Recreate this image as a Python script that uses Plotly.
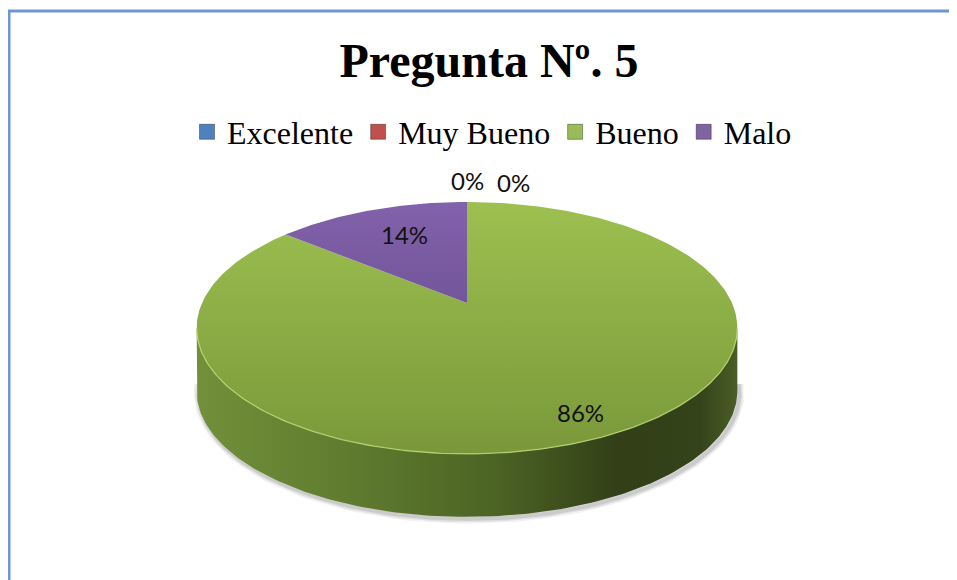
import math
import plotly.graph_objects as go

# ---------------- data ----------------
categories = ["Excelente", "Muy Bueno", "Bueno", "Malo"]
values = [0, 0, 86, 14]
colors = ["#4f81bd", "#c0504d", "#9bbb59", "#8064a2"]
title_text = "Pregunta Nº. 5"

# ---------------- styles ----------------
OFF = 8                    # page body margin of the browser
W, H = 957 - OFF, 580 - OFF
CX, CY = 467 - OFF, 303 - OFF   # projected pie centre (pixels)
A, B, K = 265, 121, 0.198  # ellipse half axes and perspective factor
D = 63                     # thickness of the pie
top_grad = {
    "Excelente": ["#6d9bd6", "#3d6aa3"],
    "Muy Bueno": ["#d56d69", "#a33d3a"],
    "Bueno": ["#9dc050", "#7a983a"],
    "Malo": ["#8262aa", "#5c4285"],
}
side_grad = {
    "Excelente": [[0, "#46709f"], [0.8, "#223a58"], [1, "#2e4a6e"]],
    "Muy Bueno": [[0, "#a84441"], [0.8, "#5c1f1d"], [1, "#6e2a27"]],
    "Bueno": [[0, "#72903a"], [0.3, "#5e7a2e"], [0.55, "#4c6424"],
              [0.78, "#323f17"], [0.93, "#34431a"], [1, "#4a5e26"]],
    "Malo": [[0, "#6b528c"], [0.8, "#37284d"], [1, "#44325e"]],
}
LABEL_R = [1.26, 1.26, 0.85, 0.62]
LABEL_SHIFT = [(0, 0), (46, -2), (0, 0), (0, 7)]
LABEL_FONT = dict(family="Lato", size=24, color="#111111")


def proj(r, t_deg, drop=0.0):
    t = math.radians(t_deg)
    X, Z = r * math.cos(t), r * math.sin(t)
    den = 1 + K * Z
    return CX + A * X / den, CY - B * Z / den + drop


def arc(t0, t1, r=1.0, drop=0.0, n=None):
    n = n or max(2, int(abs(t1 - t0) / 1.0) + 1)
    xs, ys = [], []
    for i in range(n):
        t = t0 + (t1 - t0) * i / (n - 1)
        x, y = proj(r, t, drop)
        xs.append(x)
        ys.append(y)
    return xs, ys


total = sum(values)
starts, ends = [], []
acc = 0
for v in values:
    s = 90 - 360 * acc / total
    e = s - 360 * v / total
    starts.append(s)
    ends.append(e)
    acc += v

# silhouette angles: visible front wall between these (clockwise representation)
t_sil = math.degrees(math.asin(K))
front_lo, front_hi = -180 + t_sil, -t_sil

fig = go.Figure()

# soft shadow under the front rim
for w, a_ in [(10, 0.05), (7, 0.07), (4, 0.09)]:
    xs, ys = arc(front_hi + 4, front_lo - 4, 1.0, D + 2)
    fig.add_trace(go.Scatter(x=[x + 2 for x in xs], y=ys, mode="lines",
                             line=dict(color=f"rgba(0,0,0,{a_})", width=w),
                             hoverinfo="skip", showlegend=False))

# side walls
for cat, s, e in zip(categories, starts, ends):
    if s == e:
        continue
    for shift in (0, -360, 360):
        lo = max(e, front_lo + shift)
        hi = min(s, front_hi + shift)
        if hi > lo:
            xt, yt = arc(hi, lo)
            xb, yb = arc(lo, hi, drop=D)
            fig.add_trace(go.Scatter(
                x=xt + xb + [xt[0]], y=yt + yb + [yt[0]], mode="lines",
                fill="toself", line=dict(width=0, color="rgba(0,0,0,0)"),
                fillgradient=dict(type="horizontal", colorscale=side_grad[cat]),
                hoverinfo="skip", showlegend=False))

# top faces
for cat, s, e in zip(categories, starts, ends):
    if s == e:
        continue
    xs, ys = arc(s, e)
    xs = [CX] + xs + [CX]
    ys = [CY] + ys + [CY]
    c0, c1 = top_grad[cat]
    fig.add_trace(go.Scatter(
        x=xs, y=ys, mode="lines", fill="toself",
        line=dict(width=0, color="rgba(0,0,0,0)"),
        fillgradient=dict(type="vertical", start=proj(1, 90)[1], stop=proj(1, -90)[1],
                          colorscale=[[0, c0], [1, c1]]),
        hoverinfo="skip", showlegend=False))

# light rim highlight along the front edge of the top face
xs, ys = arc(front_hi, front_lo)
fig.add_trace(go.Scatter(x=xs, y=ys, mode="lines",
                         line=dict(color="rgba(190,220,120,0.75)", width=1.3),
                         hoverinfo="skip", showlegend=False))

# legend entries
for cat, col in zip(categories, colors):
    fig.add_trace(go.Scatter(x=[None], y=[None], mode="markers", name=cat,
                             marker=dict(symbol="square", size=15, color=col,
                                         line=dict(color="rgba(0,0,0,0.35)", width=1))))

# data labels
annotations = []
for i, (v, s, e) in enumerate(zip(values, starts, ends)):
    mid = (s + e) / 2
    x, y = proj(LABEL_R[i], mid)
    annotations.append(dict(x=x, y=y, xref="x", yref="y",
                            text=f"{round(100 * v / total)}%", showarrow=False,
                            xshift=LABEL_SHIFT[i][0], yshift=LABEL_SHIFT[i][1],
                            font=LABEL_FONT))

fig.update_layout(
    width=W, height=H,
    margin=dict(l=0, r=0, t=0, b=0),
    paper_bgcolor="white", plot_bgcolor="white",
    xaxis=dict(range=[0, W], visible=False, fixedrange=True),
    yaxis=dict(range=[H, 0], visible=False, fixedrange=True),
    title=dict(text=title_text, x=(489 - OFF) / W, xanchor="center",
               y=1 - (60 - OFF) / H, yanchor="middle",
               font=dict(family="Liberation Serif", size=48, color="black", weight="bold")),
    legend=dict(orientation="h", x=(492 - OFF) / W, xanchor="center",
                y=1 - (132 - OFF) / H, yanchor="middle",
                font=dict(family="Liberation Serif", size=32, color="black"),
                itemwidth=30, bgcolor="rgba(0,0,0,0)"),
    annotations=annotations,
    shapes=[
        dict(type="line", xref="paper", yref="paper", x0=0, x1=1,
             y0=1 - (11 - OFF) / H, y1=1 - (11 - OFF) / H,
             line=dict(color="#7096cf", width=3)),
        dict(type="line", xref="paper", yref="paper", x0=1 / W, x1=1 / W,
             y0=0, y1=1 - (11 - OFF) / H,
             line=dict(color="#7096cf", width=3)),
    ],
)

fig.write_html("out.html")
